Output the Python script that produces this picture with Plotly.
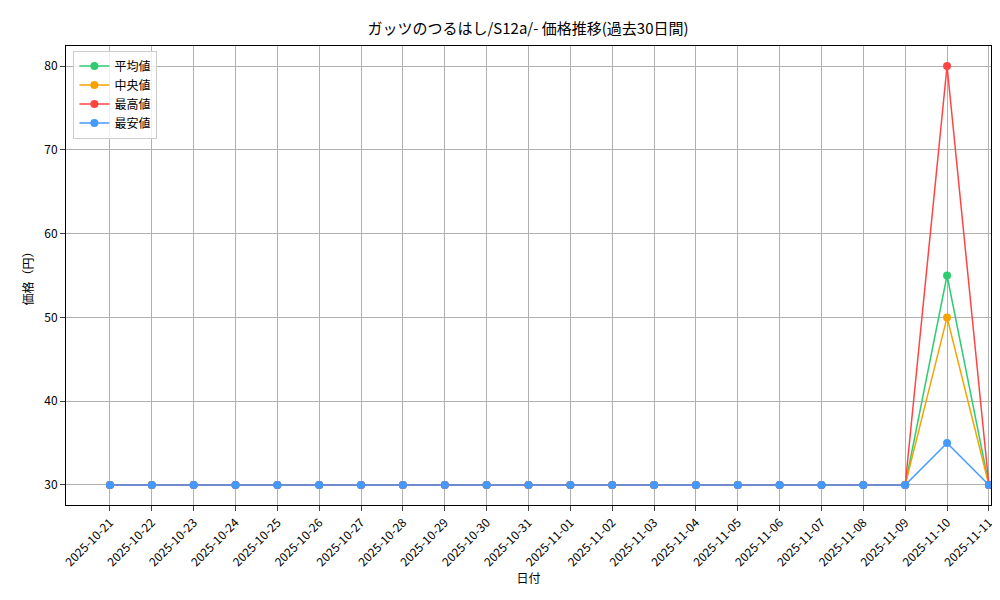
import plotly.graph_objects as go

dates = ["2025-10-21","2025-10-22","2025-10-23","2025-10-24","2025-10-25","2025-10-26","2025-10-27","2025-10-28","2025-10-29","2025-10-30","2025-10-31","2025-11-01","2025-11-02","2025-11-03","2025-11-04","2025-11-05","2025-11-06","2025-11-07","2025-11-08","2025-11-09","2025-11-10","2025-11-11"]
avg_vals = [30]*20 + [55, 30]
med_vals = [30]*20 + [50, 30]
max_vals = [30]*20 + [80, 30]
min_vals = [30]*20 + [35, 30]

series = [("平均値", avg_vals, "#2ecc71"), ("中央値", med_vals, "#f5a300"),
          ("最高値", max_vals, "#ff4444"), ("最安値", min_vals, "#4499ff")]

fig = go.Figure()
for name, vals, col in series:
    fig.add_trace(go.Scatter(x=list(range(len(dates))), y=vals, name=name, mode="lines+markers",
                             line=dict(color=col, width=1.5), marker=dict(color=col, size=8), cliponaxis=False))

font = "Noto Sans CJK JP"
fig.update_layout(
    width=1000, height=600, plot_bgcolor="white", paper_bgcolor="white",
    margin=dict(l=58, r=17, t=38, b=103, autoexpand=False),
    font=dict(family=font, size=12, color="black"),
    title=dict(text="ガッツのつるはし/S12a/- 価格推移(過去30日間)", x=0.52, xanchor="center", y=0.975, font=dict(size=15)),
    legend=dict(x=0.008, y=0.99, xanchor="left", yanchor="top", bordercolor="#cccccc", borderwidth=1,
                bgcolor="rgba(255,255,255,0.8)", font=dict(size=12)),
    xaxis=dict(range=[-1.05, 21.05], autorange=False, automargin=False, tickmode="array",
               tickvals=list(range(len(dates))), ticktext=dates,
               tickangle=-45, showgrid=True, gridcolor="#b0b0b0", showline=True, linecolor="black", mirror=True,
               ticks="outside", title=dict(text="日付", font=dict(size=12), standoff=5), zeroline=False),
    yaxis=dict(range=[27.61, 82.39], autorange=False, automargin=False, tickvals=[30,40,50,60,70,80], showgrid=True,
               gridcolor="#b0b0b0", showline=True, linecolor="black", mirror=True, ticks="outside",
               title=dict(text="価格（円）", font=dict(size=12), standoff=8), zeroline=False),
)
fig.write_html("out.html")
